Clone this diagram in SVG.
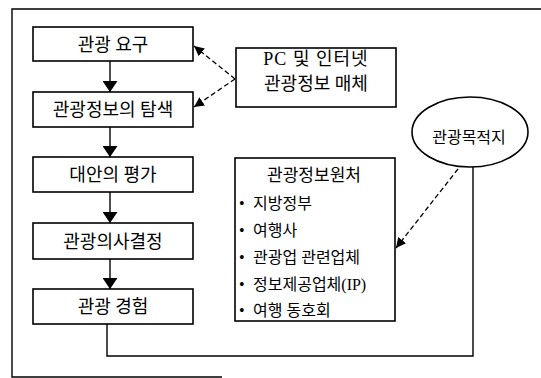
<svg xmlns="http://www.w3.org/2000/svg" width="541" height="378" viewBox="0 0 541 378">
<defs>
<marker id="ah" viewBox="0 0 10 10" refX="10" refY="5" markerWidth="10" markerHeight="10" markerUnits="userSpaceOnUse" orient="auto">
<path d="M0,0 L10,5 L0,10 Z" fill="#000"/>
</marker>
<marker id="ahs" viewBox="0 0 10 10" refX="10" refY="5" markerWidth="11" markerHeight="15" markerUnits="userSpaceOnUse" orient="auto" preserveAspectRatio="none">
<path d="M0,0 L10,5 L0,10 Z" fill="#000"/>
</marker>
</defs>
<style>
.box{fill:#fff;stroke:#000;stroke-width:1.6}
.t{font-family:"Liberation Serif","Noto Sans CJK KR",serif;fill:#000}
.big{font-size:18px}
.mid{font-size:16px}
.c{text-anchor:middle}
.solid{fill:none;stroke:#000;stroke-width:1.4}
.dash{fill:none;stroke:#000;stroke-width:1.3;stroke-dasharray:5,3}
</style>
<rect width="541" height="378" fill="#fff"/>
<path d="M541,9 H12 V377 H222" class="solid"/>
<g id="connectors">
<line x1="110" y1="61" x2="110" y2="92" class="solid" marker-end="url(#ahs)"/>
<line x1="110" y1="127" x2="110" y2="157" class="solid" marker-end="url(#ahs)"/>
<line x1="110" y1="192" x2="110" y2="223" class="solid" marker-end="url(#ahs)"/>
<line x1="110" y1="259" x2="110" y2="289" class="solid" marker-end="url(#ahs)"/>
<line x1="235" y1="79" x2="194" y2="46" class="dash" marker-end="url(#ah)"/>
<line x1="235" y1="79" x2="194" y2="107" class="dash" marker-end="url(#ah)"/>
<line x1="458" y1="169" x2="396" y2="248" class="dash" marker-end="url(#ah)"/>
<path d="M473,167 V356 H107 V324" class="solid"/>
</g>
<g id="n1"><rect x="33" y="27" width="160" height="34" class="box"/><text x="113" y="50.5" class="t big c">관광 요구</text></g>
<g id="n2"><rect x="33" y="92" width="160" height="35" class="box"/><text x="113" y="116" class="t big c">관광정보의 탐색</text></g>
<g id="n3"><rect x="33" y="157" width="160" height="35" class="box"/><text x="113" y="181" class="t big c">대안의 평가</text></g>
<g id="n4"><rect x="33" y="223" width="160" height="36" class="box"/><text x="113" y="247.5" class="t big c">관광의사결정</text></g>
<g id="n5"><rect x="33" y="289" width="160" height="35" class="box"/><text x="113" y="313" class="t big c">관광 경험</text></g>
<g id="pc"><rect x="236" y="48" width="160" height="59" class="box"/>
<text x="316" y="65" class="t big c" letter-spacing="1">PC 및 인터넷</text>
<text x="316" y="90" class="t big c">관광정보 매체</text></g>
<g id="dest"><ellipse cx="470" cy="132" rx="58" ry="35" class="box"/><text x="469" y="142.5" class="t mid c">관광목적지</text></g>
<g id="src"><rect x="235" y="158" width="160" height="163" class="box"/>
<text x="314" y="181" class="t c" font-size="17">관광정보원처</text>
<text y="209" class="t mid"><tspan x="239">•</tspan><tspan x="253">지방정부</tspan></text>
<text y="236" class="t mid"><tspan x="239">•</tspan><tspan x="253">여행사</tspan></text>
<text y="263" class="t mid"><tspan x="239">•</tspan><tspan x="253">관광업 관련업체</tspan></text>
<text y="290" class="t mid"><tspan x="239">•</tspan><tspan x="253">정보제공업체(IP)</tspan></text>
<text y="316" class="t mid"><tspan x="239">•</tspan><tspan x="253">여행 동호회</tspan></text>
</g>
</svg>
